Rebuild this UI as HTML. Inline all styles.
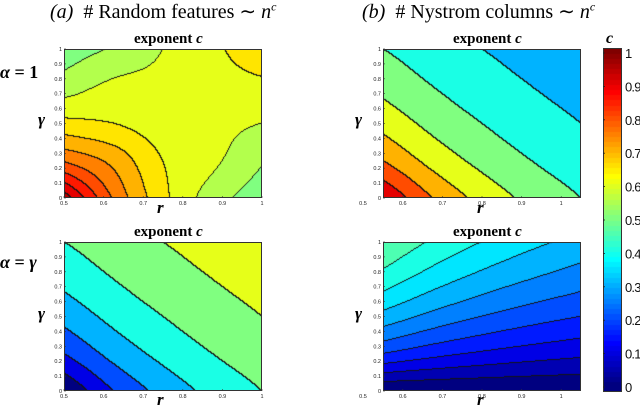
<!DOCTYPE html>
<html><head><meta charset="utf-8"><style>
body{margin:0;background:#fff;}
#root{position:relative;width:640px;height:409px;overflow:hidden;background:#fff;font-family:"Liberation Serif",serif;}
.t{position:absolute;white-space:nowrap;color:#000;}
canvas{position:absolute;}
svg{position:absolute;left:0;top:0;}
</style></head><body>
<div id="root">
<div class="t" style="left:50px;top:-1px;font-size:20px;"><i>(a)</i>&nbsp; # Random features ∼ <i>n</i><sup style="font-size:12px"><i>c</i></sup></div>
<div class="t" style="left:362px;top:-1px;font-size:20px;"><i>(b)</i>&nbsp; # Nystrom columns ∼ <i>n</i><sup style="font-size:12px"><i>c</i></sup></div>
<div class="t" style="left:134px;top:31px;font-size:15px;font-weight:bold;">exponent <i>c</i></div>
<div class="t" style="left:453px;top:31px;font-size:15px;font-weight:bold;">exponent <i>c</i></div>
<div class="t" style="left:134px;top:224px;font-size:15px;font-weight:bold;">exponent <i>c</i></div>
<div class="t" style="left:453px;top:224px;font-size:15px;font-weight:bold;">exponent <i>c</i></div>
<div class="t" style="left:0px;top:62px;font-size:18px;font-weight:bold;"><i>α</i> = 1</div>
<div class="t" style="left:0px;top:252px;font-size:18px;font-weight:bold;"><i>α</i> = <i>γ</i></div>
<div class="t" style="left:38px;top:110px;font-size:17px;font-weight:bold;"><i>γ</i></div>
<div class="t" style="left:355px;top:110px;font-size:17px;font-weight:bold;"><i>γ</i></div>
<div class="t" style="left:38px;top:304px;font-size:17px;font-weight:bold;"><i>γ</i></div>
<div class="t" style="left:355px;top:304px;font-size:17px;font-weight:bold;"><i>γ</i></div>
<div class="t" style="left:157px;top:198px;font-size:17px;font-weight:bold;"><i>r</i></div>
<div class="t" style="left:477px;top:198px;font-size:17px;font-weight:bold;"><i>r</i></div>
<div class="t" style="left:157px;top:390px;font-size:17px;font-weight:bold;"><i>r</i></div>
<div class="t" style="left:477px;top:390px;font-size:17px;font-weight:bold;"><i>r</i></div>
<div class="t" style="left:606px;top:30px;font-size:16px;font-weight:bold;"><i>c</i></div>
<svg id="ov" width="640" height="409"></svg>
</div>
<script>
// grid sample positions (normalized r and gamma)
const gridPos = [0, 0.25, 0.5, 0.75, 1];
// rows = gamma (0..1), cols = normalized r (0..1)
const gridATop = [
 [0.98,0.795,0.665,0.575,0.52],
 [0.795,0.735,0.65,0.61,0.556],
 [0.665,0.65,0.625,0.615,0.60],
 [0.575,0.61,0.615,0.632,0.64],
 [0.52,0.556,0.60,0.64,0.68]];
const gridBTop = [
 [1.0,0.8,0.667,0.571,0.5],
 [0.8,0.667,0.571,0.5,0.444],
 [0.667,0.571,0.5,0.444,0.4],
 [0.571,0.5,0.444,0.4,0.364],
 [0.5,0.444,0.4,0.364,0.333]];
const gridABot = [
 [0.0,0.2,0.333,0.429,0.5],
 [0.2,0.333,0.429,0.5,0.556],
 [0.333,0.429,0.5,0.556,0.6],
 [0.429,0.5,0.556,0.6,0.636],
 [0.5,0.556,0.6,0.636,0.667]];
const gridBBot = [
 [0,0,0,0,0],
 [0.2,0.167,0.143,0.125,0.111],
 [0.333,0.286,0.25,0.222,0.2],
 [0.429,0.375,0.333,0.3,0.273],
 [0.5,0.444,0.4,0.364,0.333]];
const levelSteps = [0.05, 0.1, 0.1, 0.05];
const gammaTicks = [0,0.1,0.2,0.3,0.4,0.5,0.6,0.7,0.8,0.9,1];
const rTicksA = [0.5,0.6,0.7,0.8,0.9,1];
const rTicksB = [0.6,0.7,0.8,0.9,1];
const cbTicks = [0,0.1,0.2,0.3,0.4,0.5,0.6,0.7,0.8,0.9,1];

const panels = [
 {name:'contour-a-top', x:64, y:49, w:198, h:149, grid:gridATop, step:levelSteps[0], r0:0.5, r1:1, ticks:rTicksA},
 {name:'contour-b-top', x:383, y:49, w:198, h:149, grid:gridBTop, step:levelSteps[1], r0:0.55, r1:1.05, ticks:rTicksB},
 {name:'contour-a-bottom', x:64, y:242, w:198, h:149, grid:gridABot, step:levelSteps[2], r0:0.5, r1:1, ticks:rTicksA},
 {name:'contour-b-bottom', x:383, y:242, w:198, h:149, grid:gridBBot, step:levelSteps[3], r0:0.55, r1:1.05, ticks:rTicksB}
];
function clamp(v){return Math.max(0,Math.min(1,v));}
function jet(v){return [clamp(1.5-Math.abs(4*v-3)),clamp(1.5-Math.abs(4*v-2)),clamp(1.5-Math.abs(4*v-1))];}
function cr(p0,p1,p2,p3,t){return 0.5*((2*p1)+(-p0+p2)*t+(2*p0-5*p1+4*p2-p3)*t*t+(-p0+3*p1-3*p2+p3)*t*t*t);}
function sample(arr,u){const n=arr.length-1;let f=u*n;let i=Math.min(n-1,Math.max(0,Math.floor(f)));let t=f-i;
 const a=k=>{if(k<0)return 2*arr[0]-arr[1];if(k>n)return 2*arr[n]-arr[n-1];return arr[k];};
 return cr(a(i-1),a(i),a(i+1),a(i+2),t);}
function interp(grid,s,g){const col=grid.map(row=>sample(row,s));return sample(col,g);}
const root=document.getElementById('root');
const ov=document.getElementById('ov');
const NS='http://www.w3.org/2000/svg';
function sv(tag,attrs){const e=document.createElementNS(NS,tag);for(const k in attrs)e.setAttribute(k,attrs[k]);ov.appendChild(e);return e;}
panels.forEach(p=>{
 const cv=document.createElement('canvas');
 
 
 cv.width=p.w;cv.height=p.h;cv.style.left=p.x+'px';cv.style.top=p.y+'px';
 root.insertBefore(cv,ov);
 const ctx=cv.getContext('2d');const img=ctx.createImageData(p.w,p.h);
 const lv=[];
 for(let j=0;j<p.h;j++){lv.push([]);for(let i=0;i<p.w;i++){
  const s=(i+0.5)/p.w, g=1-(j+0.5)/p.h;
  const c=interp(p.grid,s,g);
  lv[j].push(Math.max(0,Math.min(Math.round(1/p.step)-1,Math.floor(c/p.step+1e-9))));}}
 for(let j=0;j<p.h;j++)for(let i=0;i<p.w;i++){
  const L=lv[j][i];let col=jet(L*p.step).map(v=>v*255);
  const edge=(i+1<p.w&&lv[j][i+1]!==L)||(j+1<p.h&&lv[j+1][i]!==L);
  if(edge)col=[20,20,20];
  const o=(j*p.w+i)*4;img.data[o]=col[0];img.data[o+1]=col[1];img.data[o+2]=col[2];img.data[o+3]=255;}
 ctx.putImageData(img,0,0);
 const fr=sv('rect',{x:p.x+0.5,y:p.y+0.5,width:p.w-1,height:p.h-1,fill:'none',stroke:'#333','stroke-width':1});
 
 
 const xs=r=>p.x+(r-p.r0)/(p.r1-p.r0)*p.w;
 const ys=g=>p.y+p.h-g*p.h;
 p.ticks.forEach(r=>{
  const X=xs(r);
  const tk=sv('line',{x1:X,y1:p.y+p.h,x2:X,y2:p.y+p.h-2,stroke:'#333','stroke-width':0.6});
  
  
  const tl=sv('text',{x:X,y:p.y+p.h+7,'font-size':5.5,'text-anchor':'middle','font-family':'Liberation Sans, sans-serif',fill:'#222'});
  tl.textContent=String(r);
  
  
 });
 if(p.r0>0.5){const tl=sv('text',{x:p.x-20,y:p.y+p.h+7,'font-size':5.5,'text-anchor':'middle','font-family':'Liberation Sans, sans-serif',fill:'#222'});tl.textContent='0.5';
  
  }
 gammaTicks.forEach(g=>{
  const Y=ys(g);
  const tk=sv('line',{x1:p.x,y1:Y,x2:p.x+2,y2:Y,stroke:'#333','stroke-width':0.6});
  
  
  const tl=sv('text',{x:p.x-2,y:Y+2,'font-size':5.5,'text-anchor':'end','font-family':'Liberation Sans, sans-serif',fill:'#222'});
  tl.textContent=String(g);
  
  
 });
});
// colorbar
const cb={x:603,y:48,w:19,h:344,v1y:53,v0y:387};
const cbc=document.createElement('canvas');


cbc.width=cb.w;cbc.height=cb.h;cbc.style.left=cb.x+'px';cbc.style.top=cb.y+'px';
root.insertBefore(cbc,ov);
const cctx=cbc.getContext('2d');
for(let j=0;j<cb.h;j++){const Y=cb.y+j;const v=clamp((cb.v0y-Y)/(cb.v0y-cb.v1y));const c=jet(Math.floor(v*64)/64).map(x=>Math.round(x*255));cctx.fillStyle='rgb('+c+')';cctx.fillRect(0,j,cb.w,1);}
const cbf=sv('rect',{x:cb.x+0.5,y:cb.y+0.5,width:cb.w-1,height:cb.h-1,fill:'none',stroke:'#333','stroke-width':1});


const cy=v=>cb.v0y-v*(cb.v0y-cb.v1y);
cbTicks.forEach(v=>{
 const Y=cy(v);
 const tk=sv('line',{x1:cb.x,y1:Y,x2:cb.x+2,y2:Y,stroke:'#222','stroke-width':0.8});
 
 
 const tl=sv('text',{x:625,y:Y+5,'font-size':13,'font-family':'Liberation Sans, sans-serif',fill:'#111','letter-spacing':'-0.8'});
 tl.textContent=String(v);
 
 
});
</script>
</body></html>
